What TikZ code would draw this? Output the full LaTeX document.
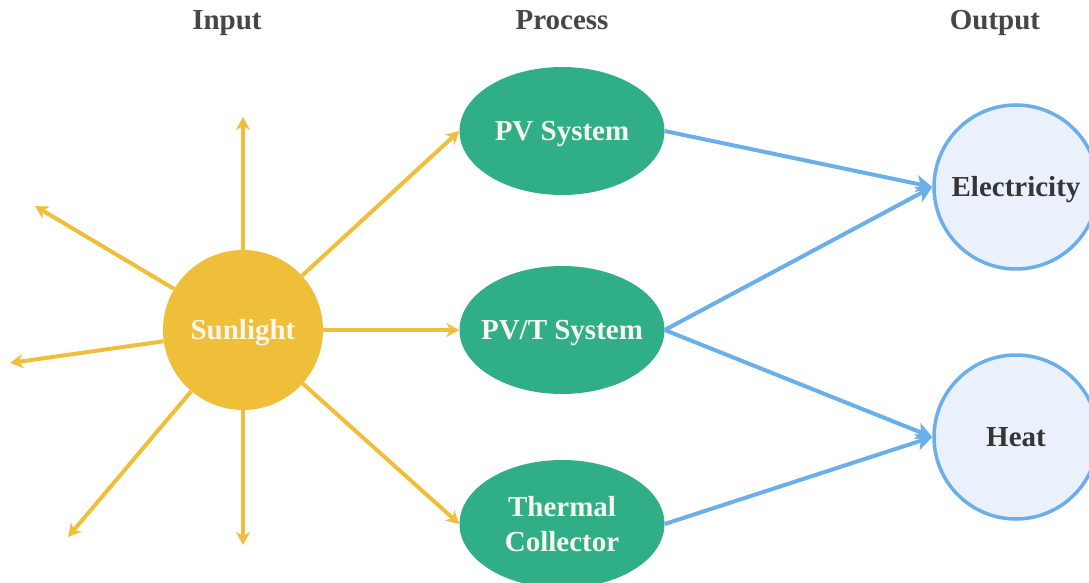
\documentclass[tikz,border=0pt]{standalone}
\usepackage{fontspec}
\setmainfont{Liberation Serif}
\usetikzlibrary{arrows.meta, shapes.geometric}
\definecolor{sunyellow}{HTML}{EFBF3A}
\definecolor{procgreen}{HTML}{2FAE88}
\definecolor{outblue}{HTML}{6AAEEA}
\definecolor{outfill}{HTML}{EAF1FC}
\definecolor{lighttext}{HTML}{F7F6EC}
\definecolor{darktext}{HTML}{363636}
\tikzset{
  bigbold/.style={font=\fontsize{29}{35}\selectfont\bfseries},
  capsbox/.style={text height=19pt, text depth=0pt},
  header/.style={bigbold, text=darktext!92!white, anchor=base, inner sep=0pt},
  sunnode/.style={circle, fill=sunyellow, minimum size=160pt, inner sep=0pt,
    bigbold, capsbox, text=lighttext},
  procnode/.style={ellipse, fill=procgreen, minimum width=205pt, minimum height=128pt,
    inner xsep=-24pt, inner ysep=-12pt, align=center, bigbold, text=lighttext},
  outnode/.style={circle, draw=outblue, line width=3.5pt, fill=outfill, minimum size=164pt,
    inner sep=-20pt, bigbold, capsbox, text=darktext},
  ray/.style={draw=sunyellow, line width=4pt, -{Stealth[length=13pt, width=14pt, inset=4pt]}},
  flow/.style={draw=outblue, line width=4pt, -{Stealth[length=16pt, width=17pt, inset=4pt]}}
}
\begin{document}
\begin{tikzpicture}[x=1pt, y=-1pt]
  \useasboundingbox (0,0) rectangle (1089,583);

  % column titles
  \node[header] (hin)  at (227,30) {Input};
  \node[header] (hpro) at (562,30) {Process};
  \node[header] (hout) at (995,30) {Output};

  % the sun and its free rays
  \node[sunnode] (sun) at (243,330) {Sunlight};
  \coordinate (rup)    at (243,117);
  \coordinate (rdown)  at (243,545);
  \coordinate (rul)    at (35,206);
  \coordinate (rleft)  at (10,363);
  \coordinate (rdl)    at (68,537);

  % conversion systems
  \node[procnode, capsbox] (pv)  at (562,131) {PV System};
  \node[procnode, capsbox] (pvt) at (562,330) {PV/T System};
  \node[procnode] (th) at (562,524) {Thermal\\Collector};

  % outputs
  \node[outnode] (el) at (1016,187) {Electricity};
  \node[outnode] (ht) at (1016,437) {Heat};

  % rays
  \draw[ray] (sun) -- (rup);
  \draw[ray] (sun) -- (rdown);
  \draw[ray] (sun) -- (rul);
  \draw[ray] (sun) -- (rleft);
  \draw[ray] (sun) -- (rdl);
  \draw[ray] (sun) -- (pv.west);
  \draw[ray] (sun) -- (pvt.west);
  \draw[ray] (sun) -- (th.west);

  % energy flows
  \draw[flow] (pv.east)  -- (el.west);
  \draw[flow] (pvt.east) -- (el.west);
  \draw[flow] (pvt.east) -- (ht.west);
  \draw[flow] (th.east)  -- (ht.west);
\end{tikzpicture}
\end{document}
